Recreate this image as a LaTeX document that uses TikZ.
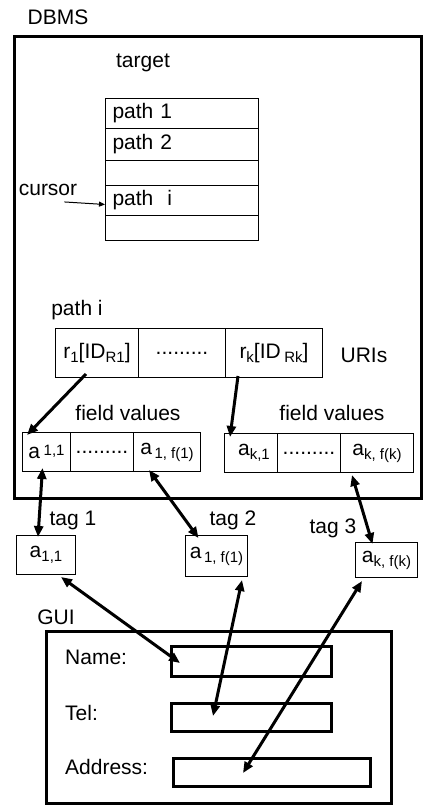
\documentclass[tikz,border=0pt]{standalone}
\usepackage{fontspec}
\setmainfont{Liberation Sans}
\usetikzlibrary{arrows.meta,calc}
\newcommand{\lowsub}[1]{\raisebox{-0.35ex}{\fontsize{15}{15}\selectfont #1}}
\newcommand{\midsup}[1]{\raisebox{0.25ex}{\fontsize{15}{15}\selectfont #1}}
\begin{document}
\begin{tikzpicture}[x=1pt,y=-1pt,
  every node/.style={font=\fontsize{21}{25}\selectfont, inner sep=0pt},
  lbl/.style={},
  cell/.style={draw, line width=1pt, anchor=north west, inner sep=0pt},
  rowcell/.style={cell, minimum width=153pt, text width=139pt, align=left, inner xsep=7pt},
  thickbox/.style={draw, line width=3pt},
  fieldbox/.style={draw, line width=2.6pt, anchor=north west},
  tagbox/.style={draw, line width=1pt, anchor=north west},
  conn/.style={line width=3pt, -{Triangle[length=11pt,width=9pt]}},
  dconn/.style={line width=3pt, {Triangle[length=11pt,width=9pt]}-{Triangle[length=11pt,width=9pt]}},
  thinconn/.style={line width=1pt, -{Triangle[length=6pt,width=5pt]}}
]
\useasboundingbox (0,0) rectangle (423,805);
\fill[white] (0,0) rectangle (423,805);

% DBMS
\node[lbl] (dbmslbl) at (58,17) {DBMS};
\node[thickbox, anchor=north west, minimum width=407pt, minimum height=462pt] (dbms) at (13,35) {};

% target table
\node[lbl] (target) at (143,63) {target};
\node[rowcell, minimum height=30pt] (t1) at (105,98) {path 1};
\node[rowcell, minimum height=32pt] (t2) at (105,128) {path 2};
\node[rowcell, minimum height=25pt] (t3) at (105,160) {};
\node[rowcell, minimum height=30pt] (t4) at (105,185) {path\ \ i};
\node[rowcell, minimum height=25pt] (t5) at (105,215) {};
\node[lbl] (cursor) at (48,190) {cursor};
\draw[thinconn] ([xshift=-13pt,yshift=-6pt]cursor.south east) -- ([yshift=-4pt]t4.west);

% path i / URIs
\node[lbl] (pathi) at (77,310) {path i};
\node[cell, minimum width=83pt, minimum height=49pt] (u1) at (55,328) {r\lowsub{1}[ID\lowsub{R1}]};
\node[cell, minimum width=87pt, minimum height=49pt] (u2) at (138,328) {.........};
\node[cell, minimum width=97pt, minimum height=49pt] (u3) at (225,328) {r\lowsub{k}[ID\,\lowsub{Rk}]};
\node[lbl] (uris) at (364,355) {URIs};

% field values
\node[lbl] (fv1) at (128,413) {field values};
\node[lbl] (fv2) at (332,413) {field values};
\node[cell, minimum width=48pt, minimum height=39pt] (f1) at (22,432) {a\,\midsup{1,1}};
\node[cell, minimum width=63pt, minimum height=39pt] (f2) at (70,432) {.........};
\node[cell, minimum width=67pt, minimum height=39pt] (f3) at (133,432) {a\lowsub{\,1, f(1)}};
\node[cell, minimum width=53pt, minimum height=39pt] (g1) at (224,433) {\ a\lowsub{k,1}};
\node[cell, minimum width=63pt, minimum height=39pt] (g2) at (277,433) {.........};
\node[cell, minimum width=73pt, minimum height=39pt] (g3) at (340,433) {a\lowsub{k, f(k)}};

\draw[conn] ([xshift=-11pt,yshift=4pt]u1.south) -- ([xshift=5pt,yshift=-3pt]f1.north west);
\draw[conn] ([xshift=13pt,yshift=2pt]u3.south west) -- ([xshift=6pt,yshift=-4pt]g1.north west);

% tags
\node[lbl] (tag1lbl) at (73,520) {tag 1};
\node[lbl] (tag2lbl) at (233,520) {tag 2};
\node[lbl] (tag3lbl) at (333,528) {tag 3};
\node[tagbox, minimum width=59pt, minimum height=39pt] (tag1) at (16,535) {a\lowsub{1,1}};
\node[tagbox, minimum width=62pt, minimum height=41pt] (tag2) at (185,535) {a\lowsub{\,1, f(1)}};
\node[tagbox, minimum width=62pt, minimum height=35pt] (tag3) at (355,542) {a\lowsub{k, f(k)}};

\draw[dconn] ([xshift=-4pt,yshift=4pt]f1.south) -- ([xshift=-8pt,yshift=-2pt]tag1.north);
\draw[dconn] ([xshift=16pt,yshift=2pt]f3.south west) -- ([xshift=-18pt,yshift=-3pt]tag2.north);
\draw[dconn] ([xshift=12pt,yshift=-2pt]g3.south west) -- ([xshift=-14pt,yshift=-2pt]tag3.north);

% GUI
\node[lbl] (guilbl) at (56,617) {GUI};
\node[thickbox, anchor=north west, minimum width=345pt, minimum height=172pt] (gui) at (45,630) {};
\node[lbl, anchor=west] (namelbl) at (65,657) {Name:};
\node[lbl, anchor=west] (tellbl) at (65,713) {Tel:};
\node[lbl, anchor=west] (addrlbl) at (65,767) {Address:};
\node[fieldbox, minimum width=160pt, minimum height=30pt] (namef) at (170,645) {};
\node[fieldbox, minimum width=160pt, minimum height=28pt] (telf) at (170,702) {};
\node[fieldbox, minimum width=197pt, minimum height=28pt] (addrf) at (172,757) {};

\draw[dconn] ([xshift=-15pt,yshift=-2pt]tag1.south east) -- ([xshift=10pt,yshift=-18pt]namef.north west);
\draw[dconn] ([xshift=-6pt,yshift=-3pt]tag2.south east) -- ([xshift=43pt,yshift=-14pt]telf.north west);
\draw[dconn] ([xshift=7pt,yshift=-3pt]tag3.south west) -- ([xshift=71pt,yshift=-16pt]addrf.north west);
\end{tikzpicture}
\end{document}
